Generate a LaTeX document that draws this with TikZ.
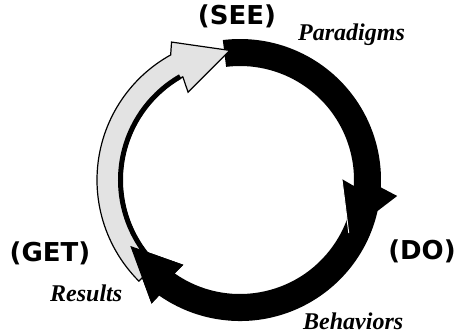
\documentclass[tikz,border=0pt]{standalone}
\usepackage{fontspec}
\setmainfont{Liberation Serif}
\newfontfamily\capsfont{DejaVu Sans}
\begin{document}
\begin{tikzpicture}[x=1pt,y=-1pt,
  captext/.style={font=\capsfont\bfseries\fontsize{26}{30}\selectfont, inner sep=0pt},
  labtext/.style={font=\bfseries\itshape\fontsize{24}{28}\selectfont, inner sep=0pt},
  lightband/.style={fill=gray!22, draw=black, line width=1.2pt},
  darkband/.style={fill=black}]
\useasboundingbox (0,0) rectangle (459,333);
\begin{scope}[shift={(240,180)}]
  % DO -> GET (bottom black arrow)
  \path[darkband] (8:141) arc[start angle=8, end angle=125, radius=141]
     -- (125.6:152) -- (149:128) -- (123.8:102) -- (125:114)
     arc[start angle=125, end angle=8, radius=114] -- cycle;
  % SEE -> DO (top black arrow)
  \path[darkband] (263:141) arc[start angle=263, end angle=363, radius=141]
     -- (365.8:158) -- (386:121) -- (359.5:102) -- (363:114)
     arc[start angle=363, end angle=263, radius=114] -- cycle;
  \draw[white, line width=0.9pt] (359.5:102) -- (386:121);
  % GET -> SEE (light arrow)
  \path[lightband] (135:143) arc[start angle=135, end angle=241, radius=143]
     -- (243.6:154) -- (265.5:130) -- (239.4:102) -- (241:118)
     arc[start angle=241, end angle=135, radius=118] -- cycle;
  \draw[black, line width=5pt] (135:119.5) arc[start angle=135, end angle=240, radius=119.5];
  % head of bottom black arrow over light tail
  \path[darkband] (125:141) -- (125.6:152) -- (149:128) -- (123.8:102) -- (125:114) -- cycle;
\end{scope}
\node[captext] (see) at (237,16) {(SEE)};
\node[captext] (do) at (422,251) {(DO)};
\node[captext] (get) at (50,253) {(GET)};
\node[labtext, anchor=base west] (par) at (298,40) {Paradigms};
\node[labtext, anchor=base west] (res) at (50,301) {Results};
\node[labtext, anchor=base west] (beh) at (303,329) {Behaviors};
\end{tikzpicture}
\end{document}
